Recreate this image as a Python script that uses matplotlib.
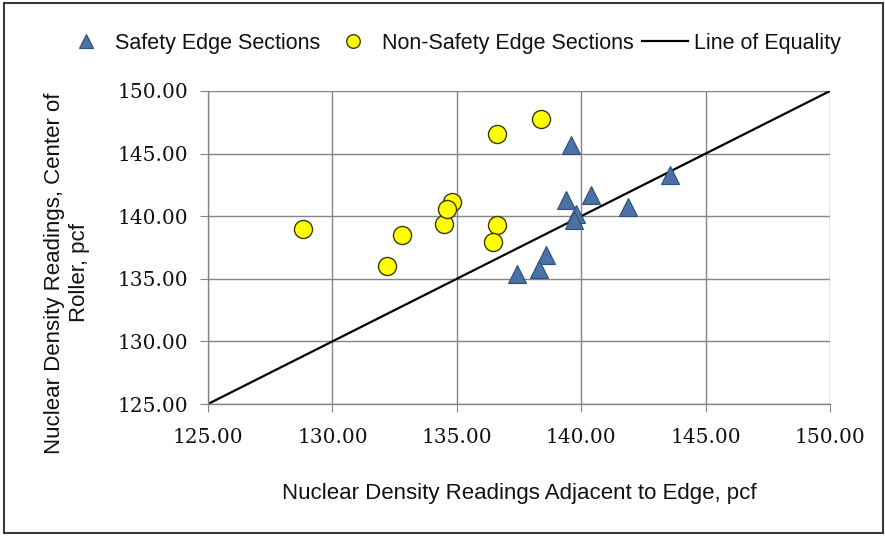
import matplotlib
matplotlib.use("Agg")
import matplotlib.pyplot as plt
from matplotlib.patches import Rectangle

# data
safety_x = [139.6, 139.4, 140.4, 141.9, 143.55, 139.8, 139.7, 138.6, 138.3, 137.4]
safety_y = [145.7, 141.3, 141.7, 140.7, 143.3, 140.2, 139.7, 136.9, 135.8, 135.4]

nonsafety_x = [128.8, 132.2, 132.8, 134.5, 134.8, 134.6, 136.6, 138.4, 136.6, 136.45]
nonsafety_y = [139.0, 136.0, 138.5, 139.4, 141.1, 140.6, 146.6, 147.8, 139.3, 137.9]

equality = [125.0, 150.0]
ticks = [125, 130, 135, 140, 145, 150]
labels = ["Safety Edge Sections", "Non-Safety Edge Sections", "Line of Equality"]

sans = "Liberation Sans"
serif = "DejaVu Serif"
W, H = 885, 537

fig = plt.figure(figsize=(W / 100, H / 100), dpi=100)
ax = fig.add_axes([208 / W, 1 - 404 / H, (830 - 208) / W, (404 - 91) / H])

grid_c = "#868686"
line = ax.plot(equality, equality, color="black", lw=1.6, zorder=2)[0]
tri = ax.plot(safety_x, safety_y, ls="none", marker="^", ms=12.5,
              mfc="#4a72a6", mec="#2d4f7a", mew=0.8, zorder=3)[0]
circ = ax.plot(nonsafety_x, nonsafety_y, ls="none", marker="o", ms=13,
               mfc="#ffff00", mec="#3a3a10", mew=1.0, zorder=3)[0]

ax.set_xlim(125, 150)
ax.set_ylim(125, 150)
ax.set_xticks(ticks)
ax.set_yticks(ticks)
ax.set_xticklabels([f"{t:.2f}" for t in ticks], fontfamily=serif, fontsize=14.5)
ax.set_yticklabels([f"{t:.2f}" for t in ticks], fontfamily=serif, fontsize=14.5)
ax.grid(True, color=grid_c, lw=1.0)
ax.set_axisbelow(True)
for side in ("top", "right"):
    ax.spines[side].set_visible(False)
for side in ("left", "bottom"):
    ax.spines[side].set_color(grid_c)
    ax.spines[side].set_linewidth(1.0)
ax.tick_params(direction="out", length=6, color=grid_c, labelcolor="#111111")
ax.tick_params(axis="x", pad=11)
ax.tick_params(axis="y", pad=8)

fig.text((208 + 830) / 2 / W, 1 - 493 / H,
         "Nuclear Density Readings Adjacent to Edge, pcf",
         ha="center", va="center", fontsize=16, fontfamily=sans, color="#111111")
fig.text(67 / W, 1 - 273 / H,
         "Nuclear Density Readings, Center of\nRoller, pcf",
         ha="center", va="center", rotation=90, fontsize=16, fontfamily=sans,
         color="#111111", linespacing=1.2)

# one legend per entry so each can sit where the reference puts it
legend_left = [63, 330, 642]
for handle, text, x0 in zip([tri, circ, line], labels, legend_left):
    leg = fig.legend([handle], [text], loc="center left",
                     bbox_to_anchor=(x0 / W, 1 - 43 / H), frameon=False,
                     prop={"family": sans, "size": 15.5}, handlelength=2.15,
                     handletextpad=0.25, borderpad=0, borderaxespad=0,
                     markerscale=0.75)
    for t in leg.get_texts():
        t.set_color("#111111")

fig.add_artist(Rectangle((0.004, 0.008), 0.994, 0.986, transform=fig.transFigure,
                         fill=False, edgecolor="#3a3a3a", lw=1.5))

fig.savefig("out.png", dpi=100)
